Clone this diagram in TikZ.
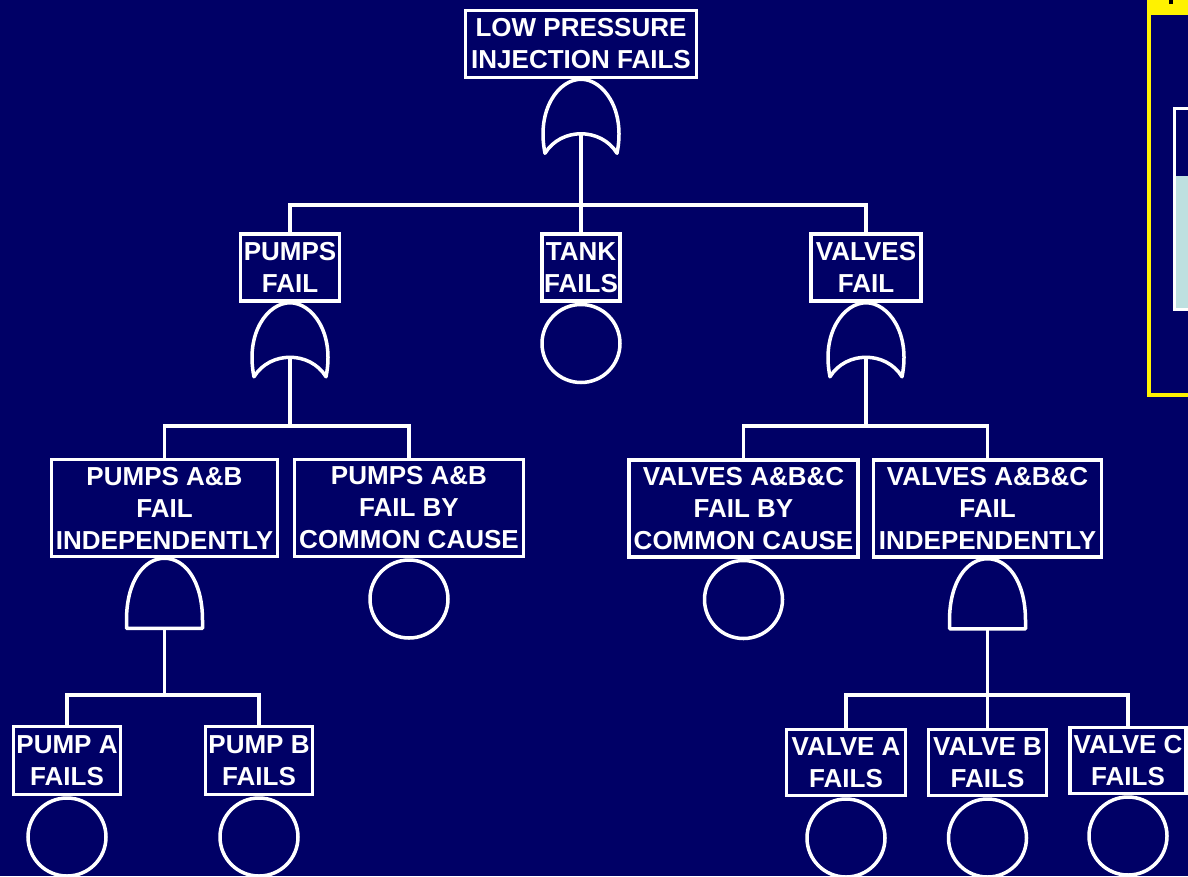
\documentclass[tikz,border=0pt]{standalone}
\usepackage{fontspec}
\setmainfont{Liberation Sans}
\definecolor{navy}{RGB}{0,0,102}
\definecolor{paleblue}{RGB}{190,224,224}
\begin{document}
\begin{tikzpicture}[x=1pt,y=-1pt,
  wire/.style={draw=white,line width=3.5pt},
  gateline/.style={draw=white,line width=3.5pt,line join=round},
  evbox/.style={draw=white,line width=3.5pt,text=white,inner sep=0pt,
    align=center,font=\bfseries\fontsize{26}{32}\selectfont},
  twoline/.style={evbox,minimum height=67pt},
  threeline/.style={evbox,minimum height=97pt},
  basic/.style={circle,draw=white,line width=3.5pt,minimum size=78pt,inner sep=0pt,anchor=north},
  orgate/.pic={
    \draw[gateline] (-36,74) .. controls (-45,30) and (-22,0) .. (0,0)
      .. controls (22,0) and (45,30) .. (36,74)
      .. controls (20,48) and (-20,48) .. cycle;
    \coordinate (-out) at (0,54.5);},
  andgate/.pic={
    \draw[gateline] (-38,70) -- (-38,62) .. controls (-38,22) and (-20,0) .. (0,0)
      .. controls (20,0) and (38,22) .. (38,62) -- (38,70) -- cycle;
    \coordinate (-out) at (0,70);}
]
% background and frame
\useasboundingbox (0,0) rectangle (1188,876);
\fill[navy] (0,0) rectangle (1188,876);

% side panel at the right edge
\fill[yellow] (1147,0) rectangle (1188,15);
\fill[black] (1169,0) rectangle (1173,4);
\draw[yellow,line width=4pt] (1149,15) -- (1149,395) -- (1192,395);
\fill[paleblue] (1176,176) rectangle (1188,308);
\draw[white,line width=3pt] (1174.5,108.5) rectangle (1195,309.5);

% events
\node[twoline,minimum width=231pt] (top) at (581,44) {LOW PRESSURE\\INJECTION FAILS};

\node[twoline,minimum width=99pt] (pumps) at (290,267.5) {PUMPS\\FAIL};
\node[twoline,minimum width=78pt] (tank) at (581,267.5) {TANK\\FAILS};
\node[twoline,minimum width=110pt] (valves) at (866,267.5) {VALVES\\FAIL};

\node[threeline,minimum width=226pt] (pInd) at (164.5,508) {PUMPS A\&B\\FAIL\\INDEPENDENTLY};
\node[threeline,minimum width=229pt] (pCC) at (409,508) {PUMPS A\&B\\FAIL BY\\COMMON CAUSE};
\node[threeline,minimum width=229pt] (vCC) at (743.5,508.5) {VALVES A\&B\&C\\FAIL BY\\COMMON CAUSE};
\node[threeline,minimum width=228pt] (vInd) at (987.5,508.5) {VALVES A\&B\&C\\FAIL\\INDEPENDENTLY};

\node[twoline,minimum width=107pt,minimum height=68pt] (pA) at (67,760.5) {PUMP A\\FAILS};
\node[twoline,minimum width=107pt,minimum height=68pt] (pB) at (259,760.5) {PUMP B\\FAILS};
\node[twoline,minimum width=119pt,minimum height=66pt] (vA) at (846,762.5) {VALVE A\\FAILS};
\node[twoline,minimum width=118pt,minimum height=66pt] (vB) at (987.5,762.5) {VALVE B\\FAILS};
\node[twoline,minimum width=116pt,minimum height=66pt] (vC) at (1128,760.5) {VALVE C\\FAILS};

% basic events
\node[basic] (tankE) at (tank.south) {};
\node[basic] (pCCE) at (pCC.south) {};
\node[basic] (vCCE) at (vCC.south) {};
\node[basic] (pAE) at (pA.south) {};
\node[basic] (pBE) at (pB.south) {};
\node[basic] (vAE) at (vA.south) {};
\node[basic] (vBE) at (vB.south) {};
\node[basic] (vCE) at (vC.south) {};

% gates
\pic (g0) at (top.south) {orgate};
\pic (g1) at (pumps.south) {orgate};
\pic (g2) at (valves.south) {orgate};
\pic (g3) at (pInd.south) {andgate};
\pic (g4) at (vInd.south) {andgate};

% junctions
\coordinate (j0) at (g0-out |- 0,205);
\coordinate (j1) at (g1-out |- 0,426);
\coordinate (j2) at (g2-out |- 0,426);
\coordinate (j3) at (g3-out |- 0,695);
\coordinate (j4) at (g4-out |- 0,695);

% connectors
\draw[wire] (g0-out) -- (j0);
\draw[wire] (pumps.north) |- (j0) -| (valves.north);
\draw[wire] (j0) -- (tank.north);

\draw[wire] (g1-out) -- (j1);
\draw[wire] (pInd.north) |- (j1) -| (pCC.north);

\draw[wire] (g2-out) -- (j2);
\draw[wire] (vCC.north) |- (j2) -| (vInd.north);

\draw[wire] (g3-out) -- (j3);
\draw[wire] (pA.north) |- (j3) -| (pB.north);

\draw[wire] (g4-out) -- (j4);
\draw[wire] (vA.north) |- (j4) -| (vC.north);
\draw[wire] (j4) -- (vB.north);
\end{tikzpicture}
\end{document}
